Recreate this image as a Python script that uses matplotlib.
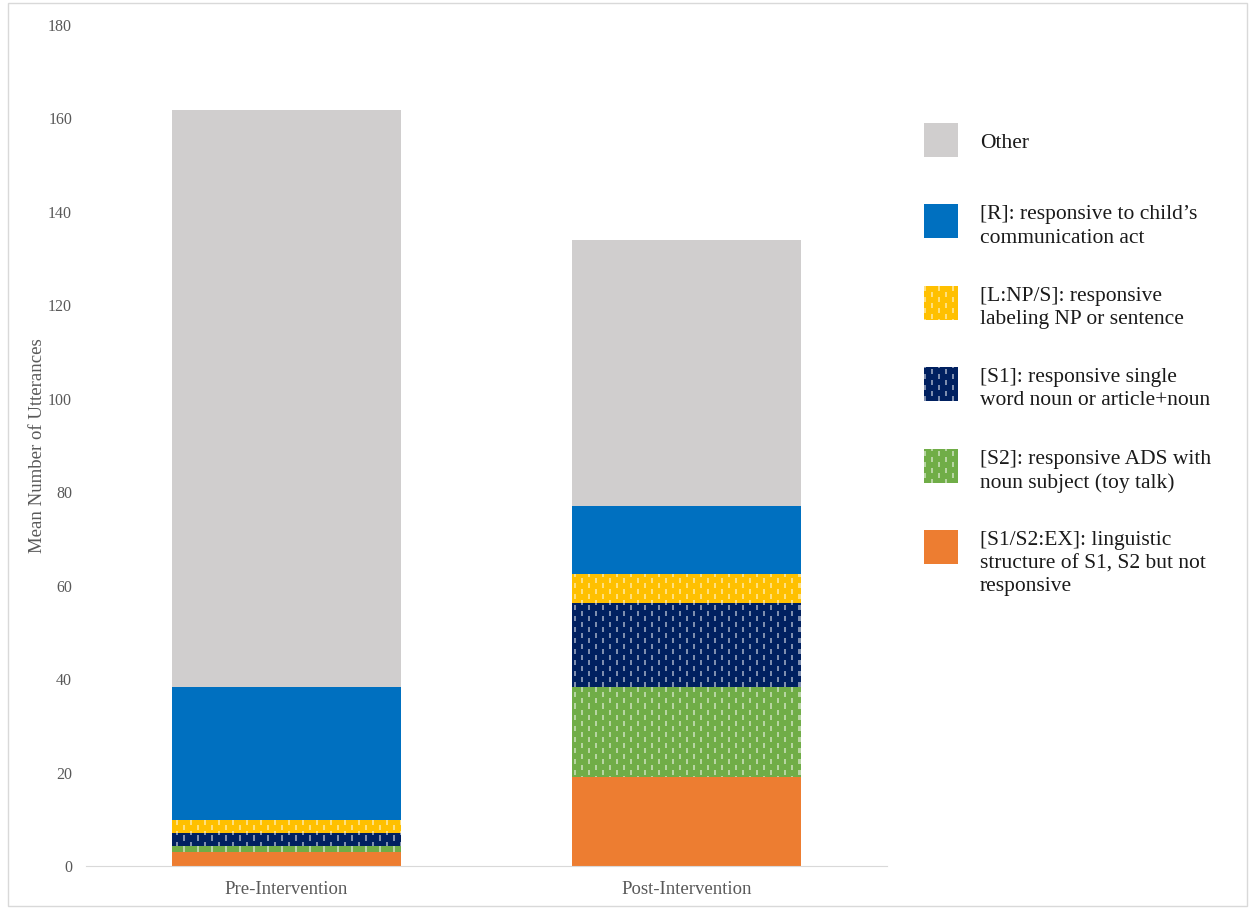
import numpy as np
import matplotlib.pyplot as plt
from matplotlib.patches import Rectangle

categories = ["Pre-Intervention", "Post-Intervention"]

# stack order, bottom to top
series_names = [
    "[S1/S2:EX]: linguistic\nstructure of S1, S2 but not\nresponsive",
    "[S2]: responsive ADS with\nnoun subject (toy talk)",
    "[S1]: responsive single\nword noun or article+noun",
    "[L:NP/S]: responsive\nlabeling NP or sentence",
    "[R]: responsive to child\u2019s\ncommunication act",
    "Other",
]
ex_vals = [3.0, 19.0]
s2_vals = [1.3, 19.4]
s1_vals = [2.8, 17.8]
lnp_vals = [2.7, 6.2]
r_vals = [28.5, 14.7]
other_vals = [123.5, 56.9]

series_vals = [ex_vals, s2_vals, s1_vals, lnp_vals, r_vals, other_vals]
colors = ["#ED7D31", "#70AD47", "#002060", "#FFC000", "#0070C0", "#D0CECE"]
dashed = [False, True, True, True, False, False]

plt.rcParams["font.family"] = ["Liberation Serif", "DejaVu Serif"]

W, H = 1251, 909
fig = plt.figure(figsize=(W / 100, H / 100), dpi=100)
ax = fig.add_axes([86 / W, 43 / H, 801 / W, 841 / H])

x = np.arange(len(categories))
bottom = np.zeros(len(categories))
patterned = []
for vals, col, d in zip(series_vals, colors, dashed):
    bars = ax.bar(x, vals, width=0.573, bottom=bottom, color=col, linewidth=0)
    if d:
        patterned.extend(bars.patches)
    bottom = bottom + np.array(vals)

ax.set_xlim(-0.5, 1.5)
ax.set_ylim(0, 180)
ax.set_yticks(range(0, 181, 20))
ax.set_xticks(x)
ax.set_xticklabels(categories, fontsize=13.5)
ax.tick_params(axis="both", length=0, colors="#595959")
ax.tick_params(axis="y", pad=10, labelsize=11.5)
ax.tick_params(axis="x", pad=11)
for s in ["top", "right", "left"]:
    ax.spines[s].set_visible(False)
ax.spines["bottom"].set_color("#D9D9D9")
ax.set_ylabel("Mean Number of Utterances", fontsize=13.5, color="#595959")
ax.yaxis.set_label_coords(-0.05, 0.5)

# white dash texture (like the office "dashed" fill), in pixel space
yy, xx = np.mgrid[0:H, 0:W]
col_idx = xx // 7
on = ((xx % 7) < 2) & (((yy + (col_idx % 2) * 5) % 11) < 5)
tex = np.zeros((H, W, 4))
tex[..., :3] = 1.0
tex[..., 3] = np.where(on, 0.5, 0.0)

ovl = fig.add_axes([0, 0, 1, 1])
ovl.set_xlim(0, W)
ovl.set_ylim(H, 0)
ovl.axis("off")
ovl.patch.set_visible(False)

for p in patterned:
    im = ovl.imshow(tex, extent=(0, W, H, 0), interpolation="nearest", aspect="auto", zorder=3)
    im.set_clip_path(p)

# legend, top entry first
for k, (name, col, d) in enumerate(zip(series_names[::-1], colors[::-1], dashed[::-1])):
    top = 123 + 81.4 * k
    sq = Rectangle((924, top), 34, 34, facecolor=col, linewidth=0, zorder=1)
    ovl.add_patch(sq)
    if d:
        im = ovl.imshow(tex, extent=(0, W, H, 0), interpolation="nearest", aspect="auto", zorder=3)
        im.set_clip_path(sq)
    if "\n" in name:
        ovl.text(980, top + 1, name, fontsize=15.5, va="top", ha="left",
                 color="#1a1a1a", linespacing=1.3)
    else:
        ovl.text(980, top + 20, name, fontsize=15.5, va="center", ha="left", color="#1a1a1a")

ovl.add_patch(Rectangle((8, 3), 1239, 903, fill=False, edgecolor="#D9D9D9", linewidth=1))

fig.savefig("out.png", dpi=100)
